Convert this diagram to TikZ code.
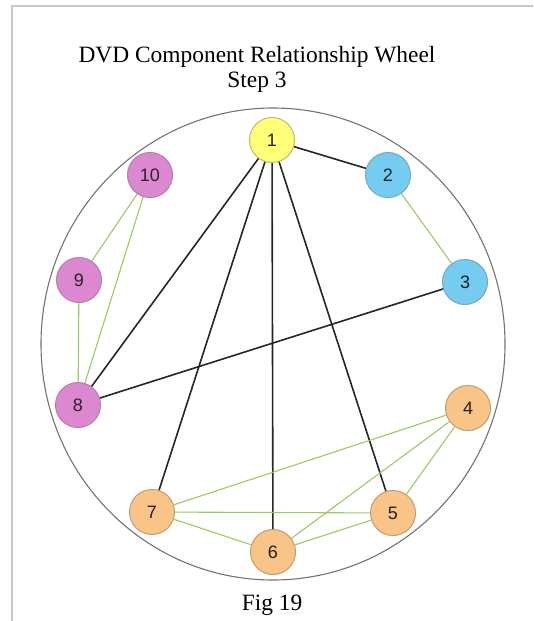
\documentclass[tikz,border=0pt]{standalone}
\usepackage{fontspec}
\setmainfont{Liberation Serif}
\newfontfamily\numfont{Liberation Sans}

\definecolor{wheelyellow}{HTML}{FFFF78}
\definecolor{yellowrim}{HTML}{C2BC5E}
\definecolor{wheelblue}{HTML}{74CDF0}
\definecolor{bluerim}{HTML}{7AA6BE}
\definecolor{wheelpink}{HTML}{DC88D0}
\definecolor{pinkrim}{HTML}{B47EAC}
\definecolor{wheelorange}{HTML}{F9C488}
\definecolor{orangerim}{HTML}{C49C6E}
\definecolor{wheelgreen}{HTML}{9ACB5E}
\definecolor{framegray}{HTML}{C8C8C8}

\begin{document}
\begin{tikzpicture}[x=1pt, y=-1pt,
    main/.style = {draw, circle, minimum size=45pt, inner sep=0pt, line width=1pt,
                   font=\numfont\fontsize{18}{18}\selectfont},
    yellownode/.style = {main, fill=wheelyellow, draw=yellowrim, text=black!80!yellowrim},
    bluenode/.style = {main, fill=wheelblue, draw=bluerim, text=black!80!bluerim},
    pinknode/.style = {main, fill=wheelpink, draw=pinkrim, text=black!75!pinkrim},
    orangenode/.style = {main, fill=wheelorange, draw=orangerim, text=black!80!orangerim},
    link/.style = {line width=1.6pt, black!85},
    greenlink/.style = {line width=1.1pt, wheelgreen},
    label/.style = {font=\fontsize{23.4}{28}\selectfont}]
    \useasboundingbox (0,0) rectangle (533,621);

    % frame and wheel
    \draw[framegray, line width=2pt] (12,621) -- (12,6) -- (533,6);
    \draw[black!55, line width=1.1pt] (273,344) ellipse [x radius=232, y radius=236];

    \node[label] (title) at (257,57) {DVD Component Relationship Wheel};
    \node[label] (step) at (257,82) {Step 3};
    \node[label] (fig) at (272,605) {Fig 19};

    \node[yellownode] (1) at (272,140) {1};
    \node[bluenode] (2) at (388,175) {2};
    \node[bluenode] (3) at (465,282) {3};
    \node[orangenode] (4) at (468,408) {4};
    \node[orangenode] (5) at (393,513) {5};
    \node[orangenode] (6) at (273,552) {6};
    \node[orangenode] (7) at (152,512) {7};
    \node[pinknode] (8) at (78,405) {8};
    \node[pinknode] (9) at (79,280) {9};
    \node[pinknode] (10) at (150,175) {10};

    % links from 1 and across
    \draw[link] (1) -- (2);
    \draw[link] (1) -- (8);
    \draw[link] (1) -- (7);
    \draw[link] (1) -- (6);
    \draw[link] (1) -- (5);
    \draw[link] (3) -- (8);

    % links within groups
    \draw[greenlink] (2) -- (3);
    \draw[greenlink] (10) -- (9);
    \draw[greenlink] (10) -- (8);
    \draw[greenlink] (9) -- (8);
    \draw[greenlink] (4) -- (7);
    \draw[greenlink] (4) -- (6);
    \draw[greenlink] (4) -- (5);
    \draw[greenlink] (7) -- (5);
    \draw[greenlink] (7) -- (6);
    \draw[greenlink] (6) -- (5);
\end{tikzpicture}
\end{document}
